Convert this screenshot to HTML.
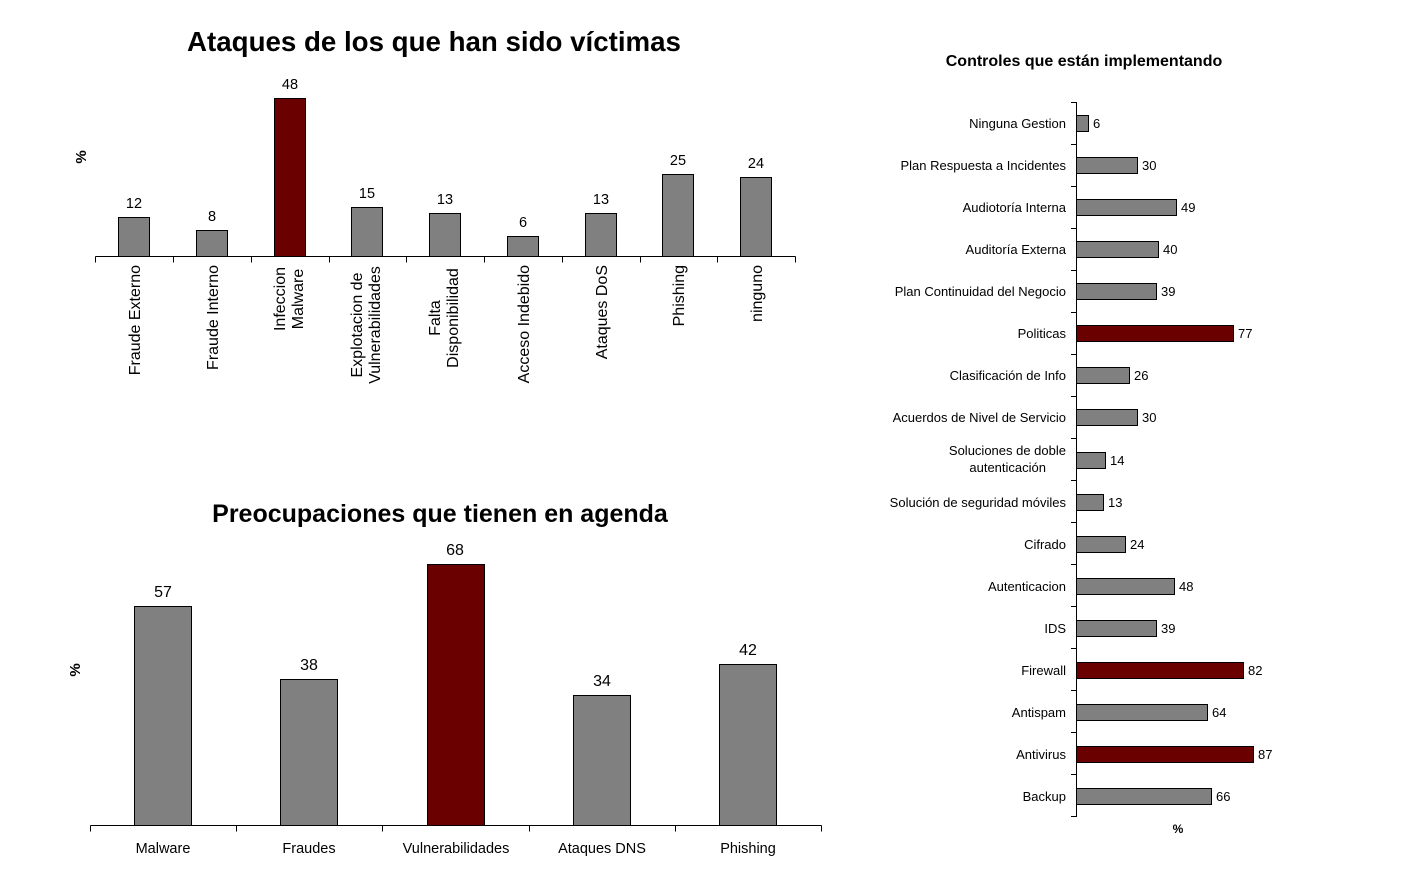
<!DOCTYPE html>
<html><head><meta charset="utf-8"><style>body{margin:0;background:#fff}svg{display:block;font-family:"Liberation Sans",Arial,sans-serif}</style></head><body>
<svg width="1402" height="896" viewBox="0 0 1402 896" xmlns="http://www.w3.org/2000/svg">
<rect width="1402" height="896" fill="#fff"/>
<!-- Chart 1 -->
<text x="434" y="51" font-size="27.7" font-weight="bold" text-anchor="middle">Ataques de los que han sido víctimas</text>
<text transform="translate(86,157) rotate(-90)" font-size="15" font-weight="bold" text-anchor="middle">%</text>
<g stroke="#000" stroke-width="1" fill="#808080">
<rect x="118.5" y="217.5" width="31" height="39"/>
<rect x="196.5" y="230.5" width="31" height="26"/>
<rect x="274.5" y="98.5" width="31" height="158" fill="#6b0000"/>
<rect x="351.5" y="207.5" width="31" height="49"/>
<rect x="429.5" y="213.5" width="31" height="43"/>
<rect x="507.5" y="236.5" width="31" height="20"/>
<rect x="585.5" y="213.5" width="31" height="43"/>
<rect x="662.5" y="174.5" width="31" height="82"/>
<rect x="740.5" y="177.5" width="31" height="79"/>
<path d="M95.5 256.5H795.5M95.5 256.5v6M173.5 256.5v6M251.5 256.5v6M329.5 256.5v6M406.5 256.5v6M484.5 256.5v6M562.5 256.5v6M640.5 256.5v6M717.5 256.5v6M795.5 256.5v6" fill="none"/>
</g>
<g font-size="14.5" text-anchor="middle">
<text x="134" y="208">12</text><text x="212" y="221">8</text><text x="290" y="89">48</text><text x="367" y="198">15</text><text x="445" y="204">13</text><text x="523" y="227">6</text><text x="601" y="204">13</text><text x="678" y="165">25</text><text x="756" y="168">24</text>
</g>
<g font-size="16">
<text transform="translate(140,265) rotate(-90)" text-anchor="end">Fraude Externo</text>
<text transform="translate(218,265) rotate(-90)" text-anchor="end">Fraude Interno</text>
<text transform="translate(285,299) rotate(-90)" text-anchor="middle">Infeccion</text>
<text transform="translate(303,299) rotate(-90)" text-anchor="middle">Malware</text>
<text transform="translate(362,325) rotate(-90)" text-anchor="middle">Explotacion de</text>
<text transform="translate(380,325) rotate(-90)" text-anchor="middle">Vulnerabilidades</text>
<text transform="translate(440,318) rotate(-90)" text-anchor="middle">Falta</text>
<text transform="translate(458,318) rotate(-90)" text-anchor="middle">Disponibilidad</text>
<text transform="translate(529,265) rotate(-90)" text-anchor="end">Acceso Indebido</text>
<text transform="translate(607,265) rotate(-90)" text-anchor="end">Ataques DoS</text>
<text transform="translate(684,265) rotate(-90)" text-anchor="end">Phishing</text>
<text transform="translate(762,265) rotate(-90)" text-anchor="end">ninguno</text>
</g>
<!-- Chart 2 -->
<text x="440" y="522" font-size="25" font-weight="bold" text-anchor="middle">Preocupaciones que tienen en agenda</text>
<text transform="translate(80,670) rotate(-90)" font-size="15" font-weight="bold" text-anchor="middle">%</text>
<g stroke="#000" stroke-width="1" fill="#808080">
<rect x="134.5" y="606.5" width="57" height="219"/>
<rect x="280.5" y="679.5" width="57" height="146"/>
<rect x="427.5" y="564.5" width="57" height="261" fill="#6b0000"/>
<rect x="573.5" y="695.5" width="57" height="130"/>
<rect x="719.5" y="664.5" width="57" height="161"/>
<path d="M90.5 825.5H821.5M90.5 825.5v6M236.5 825.5v6M382.5 825.5v6M529.5 825.5v6M675.5 825.5v6M821.5 825.5v6" fill="none"/>
</g>
<g font-size="16" text-anchor="middle">
<text x="163" y="597">57</text><text x="309" y="670">38</text><text x="455" y="555">68</text><text x="602" y="686">34</text><text x="748" y="655">42</text>
</g>
<g font-size="14.5" text-anchor="middle">
<text x="163" y="853">Malware</text><text x="309" y="853">Fraudes</text><text x="456" y="853">Vulnerabilidades</text><text x="602" y="853">Ataques DNS</text><text x="748" y="853">Phishing</text>
</g>
<!-- Chart 3 -->
<text x="1084" y="66" font-size="16" font-weight="bold" text-anchor="middle">Controles que están implementando</text>
<text x="1178" y="833" font-size="12" font-weight="bold" text-anchor="middle">%</text>
<g stroke="#000" stroke-width="1" fill="#808080">
<rect x="1076.5" y="115.5" width="12" height="16"/>
<rect x="1076.5" y="157.5" width="61" height="16"/>
<rect x="1076.5" y="199.5" width="100" height="16"/>
<rect x="1076.5" y="241.5" width="82" height="16"/>
<rect x="1076.5" y="283.5" width="80" height="16"/>
<rect x="1076.5" y="325.5" width="157" height="16" fill="#6b0000"/>
<rect x="1076.5" y="367.5" width="53" height="16"/>
<rect x="1076.5" y="409.5" width="61" height="16"/>
<rect x="1076.5" y="452.5" width="29" height="16"/>
<rect x="1076.5" y="494.5" width="27" height="16"/>
<rect x="1076.5" y="536.5" width="49" height="16"/>
<rect x="1076.5" y="578.5" width="98" height="16"/>
<rect x="1076.5" y="620.5" width="80" height="16"/>
<rect x="1076.5" y="662.5" width="167" height="16" fill="#6b0000"/>
<rect x="1076.5" y="704.5" width="131" height="16"/>
<rect x="1076.5" y="746.5" width="177" height="16" fill="#6b0000"/>
<rect x="1076.5" y="788.5" width="135" height="16"/>
<path d="M1076.5 102V817M1071 102.5h5.5M1071 144.5h5.5M1071 186.5h5.5M1071 228.5h5.5M1071 270.5h5.5M1071 312.5h5.5M1071 354.5h5.5M1071 396.5h5.5M1071 438.5h5.5M1071 480.5h5.5M1071 522.5h5.5M1071 564.5h5.5M1071 606.5h5.5M1071 648.5h5.5M1071 690.5h5.5M1071 732.5h5.5M1071 774.5h5.5M1071 816.5h5.5" fill="none"/>
</g>
<g font-size="13">
<text x="1093" y="128">6</text><text x="1142" y="170">30</text><text x="1181" y="212">49</text><text x="1163" y="254">40</text><text x="1161" y="296">39</text><text x="1238" y="338">77</text><text x="1134" y="380">26</text><text x="1142" y="422">30</text><text x="1110" y="465">14</text><text x="1108" y="507">13</text><text x="1130" y="549">24</text><text x="1179" y="591">48</text><text x="1161" y="633">39</text><text x="1248" y="675">82</text><text x="1212" y="717">64</text><text x="1258" y="759">87</text><text x="1216" y="801">66</text>
</g>
<g font-size="13" text-anchor="end">
<text x="1066" y="128">Ninguna Gestion</text>
<text x="1066" y="170">Plan Respuesta a Incidentes</text>
<text x="1066" y="212">Audiotoría Interna</text>
<text x="1066" y="254">Auditoría Externa</text>
<text x="1066" y="296">Plan Continuidad del Negocio</text>
<text x="1066" y="338">Politicas</text>
<text x="1066" y="380">Clasificación de Info</text>
<text x="1066" y="422">Acuerdos de Nivel de Servicio</text>
<text x="1066" y="455">Soluciones de doble</text>
<text x="1046" y="472">autenticación</text>
<text x="1066" y="507">Solución de seguridad móviles</text>
<text x="1066" y="549">Cifrado</text>
<text x="1066" y="591">Autenticacion</text>
<text x="1066" y="633">IDS</text>
<text x="1066" y="675">Firewall</text>
<text x="1066" y="717">Antispam</text>
<text x="1066" y="759">Antivirus</text>
<text x="1066" y="801">Backup</text>
</g>
</svg>
</body></html>
